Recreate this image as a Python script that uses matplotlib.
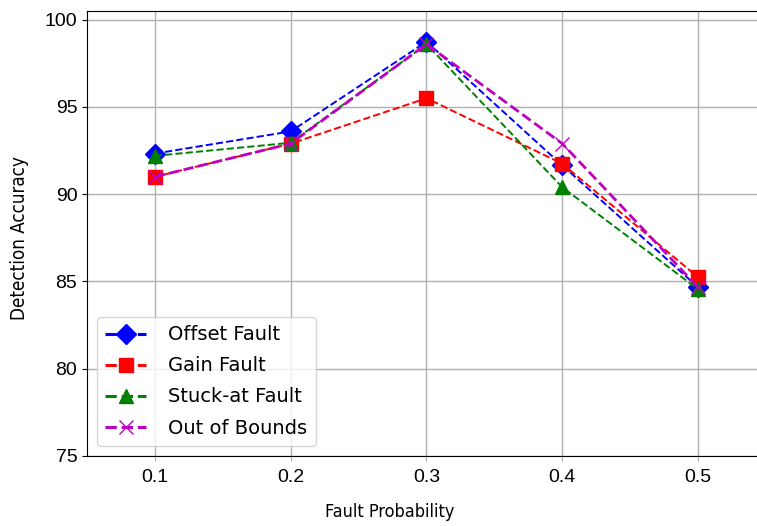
import matplotlib
matplotlib.use("Agg")
import matplotlib.pyplot as plt

probs = [0.1, 0.2, 0.3, 0.4, 0.5]
offset_fault = [92.33, 93.6, 98.74, 91.65, 84.67]
gain_fault = [91.0, 92.9, 95.5, 91.75, 85.24]
stuck_fault = [92.2, 92.95, 98.6, 90.4, 84.55]
out_of_bounds = [91.0, 92.9, 98.6, 92.9, 84.67]
yticks = [75, 80, 85, 90, 95, 100]

plt.rcParams['font.family'] = ['Liberation Sans', 'DejaVu Sans']

fig = plt.figure(figsize=(7.57, 5.26), dpi=100)
ax = fig.add_axes([87/757, 1-456/526, 679/757, 445/526])

ax.plot(probs, offset_fault, 'b--D', lw=1.4, ms=10, label='Offset Fault', zorder=3)
ax.plot(probs, gain_fault, 'r--s', lw=1.4, ms=10, label='Gain Fault', zorder=3)
ax.plot(probs, stuck_fault, 'g--^', lw=1.4, ms=10, label='Stuck-at Fault', zorder=3)
ax.plot(probs, out_of_bounds, 'm--x', lw=2, ms=10, label='Out of Bounds', zorder=3)

ax.set_xlim(0.05, 0.55)
ax.set_ylim(75, 100.5)
ax.set_xticks(probs)
ax.set_xticklabels([f"{p:.1f}" for p in probs])
ax.set_yticks(yticks)
ax.grid(True, color='#b0b0b0', lw=1)
ax.set_axisbelow(True)
ax.tick_params(axis='x', color='#b0b0b0', labelsize=14, pad=6)
ax.tick_params(axis='y', labelsize=14)
ax.spines['right'].set_visible(False)

ax.set_xlabel('Fault Probability', family='DejaVu Sans', fontstretch='condensed',
              fontsize=13)
ax.set_ylabel('Detection Accuracy', family='DejaVu Sans', fontstretch='condensed',
              fontsize=13.5)
ax.xaxis.set_label_coords((390 - 87) / 679, -0.106)
ax.yaxis.set_label_coords(-0.086, 0.49)

leg = ax.legend(loc='lower left', handlelength=2.1, borderpad=0.45,
                labelspacing=0.62, handletextpad=1.1,
                prop={'family': 'DejaVu Sans', 'size': 14},
                bbox_to_anchor=(0.0, 0.0))
for h in leg.legend_handles:
    h.set_linewidth(2.2)

fig.savefig('out.png', dpi=100)
